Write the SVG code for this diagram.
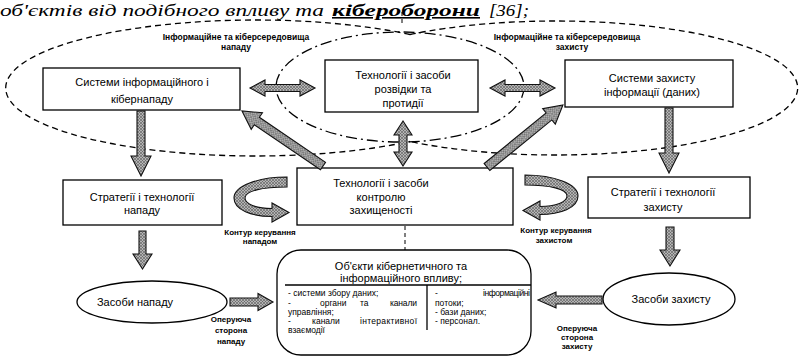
<svg xmlns="http://www.w3.org/2000/svg" width="803" height="358" viewBox="0 0 803 358">
<defs>
<pattern id="h" width="3" height="3" patternUnits="userSpaceOnUse">
<rect width="3" height="3" fill="#b4b4b4"/>
<path d="M0,3 L3,0 M0,0 L3,3" stroke="#5a5a5a" stroke-width="0.6"/>
</pattern>
<style>
.box{fill:#fff;stroke:#000;stroke-width:1.3}
.arr{fill:url(#h);stroke:#111;stroke-width:1.1;stroke-linejoin:miter}
.env{fill:none;stroke:#000;stroke-width:1.3;stroke-dasharray:6 4}
.dd{fill:none;stroke:#000;stroke-width:1.3;stroke-dasharray:11 4 2 4}
.t{font-family:"Liberation Sans",Arial,sans-serif;font-size:11px;fill:#000;text-anchor:middle}
.s{font-size:8.5px;font-weight:bold}
.l{font-size:8px;font-weight:bold}
.c{font-size:8.5px;text-anchor:start}
.vd{stroke:#000;stroke-width:1;stroke-dasharray:4 3;fill:none}
</style>
</defs>
<rect width="803" height="358" fill="#fff"/>

<g id="caption" font-family="'Liberation Serif','Times New Roman',serif" font-style="italic" font-size="16" fill="#000">
<text x="0" y="16" textLength="324" lengthAdjust="spacingAndGlyphs">об'єктів від подібного впливу та</text>
<text x="332" y="16" font-weight="bold" text-decoration="underline" textLength="148" lengthAdjust="spacingAndGlyphs">кібероборони</text>
<text x="489" y="16" textLength="40" lengthAdjust="spacingAndGlyphs">[36];</text>
</g>

<g id="env-attack">
<path class="env" d="M410,34.5 A250,68 0 1,0 410,141.5"/>
<text class="t s" x="236" y="40">Інформаційне та кіберсередовища</text>
<text class="t s" x="236" y="50">нападу</text>
</g>
<g id="env-defense">
<path class="env" d="M410,34.5 A242,67 0 1,1 410,141.5"/>
<text class="t s" x="567" y="40">Інформаційне та кіберсередовища</text>
<text class="t s" x="572" y="50">захисту</text>
</g>
<g id="env-recon">
<ellipse class="dd" cx="400" cy="87" rx="124" ry="55"/>
</g>

<g id="attack-systems">
<rect class="box" x="43" y="68" width="197" height="42"/>
<text class="t" x="142" y="86">Системи інформаційного і</text>
<text class="t" x="142" y="103">кібернападу</text>
</g>
<g id="recon-tech">
<rect class="box" x="325" y="60" width="153" height="52"/>
<text class="t" x="403" y="79">Технології і засоби</text>
<text class="t" x="403" y="93">розвідки та</text>
<text class="t" x="403" y="107">протидії</text>
</g>
<g id="defense-systems">
<rect class="box" x="565" y="60" width="168" height="47"/>
<text class="t" x="652" y="82">Системи захисту</text>
<text class="t" x="652" y="96">інформації (даних)</text>
</g>
<g id="attack-strategies">
<rect class="box" x="63" y="180" width="159" height="45"/>
<text class="t" x="142" y="201">Стратегії і технології</text>
<text class="t" x="142" y="214">нападу</text>
</g>
<g id="control-tech">
<rect class="box" x="297" y="168" width="216" height="57"/>
<text class="t" x="381" y="187">Технології і засоби</text>
<text class="t" x="381" y="201">контролю</text>
<text class="t" x="381" y="214">захищеності</text>
</g>
<g id="defense-strategies">
<rect class="box" x="588" y="177" width="162" height="41"/>
<text class="t" x="663" y="196">Стратегії і технології</text>
<text class="t" x="663" y="211">захисту</text>
</g>
<g id="attack-means">
<ellipse class="box" cx="152" cy="302" rx="75" ry="21"/>
<text class="t" x="135" y="306">Засоби нападу</text>
</g>
<g id="defense-means">
<ellipse class="box" cx="669" cy="299" rx="66" ry="26"/>
<text class="t" x="671" y="303">Засоби захисту</text>
</g>
<g id="targets">
<rect class="box" x="277" y="250" width="254" height="105" rx="24" ry="24"/>
<text class="t" x="401" y="270" font-size="10">Об'єкти кібернетичного та</text>
<text class="t" x="401" y="282" font-size="10">інформаційного впливу;</text>
<line x1="285" y1="285" x2="531" y2="285" stroke="#000" stroke-width="1.3"/>
<line x1="427" y1="285" x2="427" y2="330" stroke="#000" stroke-width="1.3"/>
<g class="t c">
<text x="288" y="296">- системи збору даних;</text>
<text x="288" y="306">-</text><text x="320" y="306">органи</text><text x="360" y="306">та</text><text x="390" y="306" textLength="27">канали</text>
<text x="288" y="315">управління;</text>
<text x="288" y="324">-</text><text x="312" y="324">канали</text><text x="360" y="324" textLength="57">інтерактивної</text>
<text x="288" y="333">взаємодії</text>
<text x="435" y="296">-</text><text x="483" y="296" textLength="47">інформаційні</text>
<text x="435" y="306">потоки;</text>
<text x="435" y="315">- бази даних;</text>
<text x="435" y="324">- персонал.</text>
</g>
</g>

<g id="labels">
<text class="t l" x="260" y="235">Контур керування</text>
<text class="t l" x="260" y="244">нападом</text>
<text class="t l" x="556" y="233">Контур керування</text>
<text class="t l" x="554" y="243">захистом</text>
<text class="t l" x="231" y="322">Оперуюча</text>
<text class="t l" x="231" y="333">сторона</text>
<text class="t l" x="231" y="344">нападу</text>
<text class="t l" x="577" y="331">Оперуюча</text>
<text class="t l" x="577" y="340">сторона</text>
<text class="t l" x="577" y="349">захисту</text>
</g>

<g id="connectors">
<line class="vd" x1="402" y1="12" x2="402" y2="26"/>
<line class="vd" x1="405" y1="226" x2="405" y2="250"/>
<path class="arr" d="M250,88 L265,80 L265,84.5 L300,84.5 L300,80 L315,88 L300,96 L300,91.5 L265,91.5 L265,96 Z"/>
<path class="arr" d="M490,88 L505,80 L505,84.5 L540,84.5 L540,80 L555,88 L540,96 L540,91.5 L505,91.5 L505,96 Z"/>
<path class="arr" d="M403,121 L394,135 L399,135 L399,152 L394,152 L403,166 L412,152 L407,152 L407,135 L412,135 Z"/>
<path class="arr" transform="translate(323,166) rotate(-145.8)" d="M0,-4.5 L80,-4.5 L80,-10 L98,0 L80,10 L80,4.5 L0,4.5 Z"/>
<path class="arr" transform="translate(487,167) rotate(-39.2)" d="M0,-4.5 L80,-4.5 L80,-10 L98,0 L80,10 L80,4.5 L0,4.5 Z"/>
<path class="arr" d="M137,111 L145,111 L145,156 L151,156 L141,176 L131,156 L137,156 Z"/>
<path class="arr" d="M665,108 L673,108 L673,153 L679,153 L669,173 L659,153 L665,153 Z"/>
<path class="arr" d="M139,231 L146,231 L146,254 L152,254 L142.5,269 L133,254 L139,254 Z"/>
<path class="arr" d="M666,227 L674,227 L674,250 L680,250 L670,266 L660,250 L666,250 Z"/>
<path class="arr" d="M230,298 L258,298 L258,293.5 L273,302 L258,310.5 L258,306 L230,306 Z"/>
<path class="arr" d="M602,296 L556,296 L556,292 L538,300 L556,308 L556,304 L602,304 Z"/>
<path class="arr" d="M287,177 C258,177 234,186 234,198 C234,210 252,216.5 272,216.5 L272,222 L289,212.5 L272,203 L272,208.5 C256,208.5 245,204 245,198 C245,191 262,187 287,187 Z"/>
<path class="arr" transform="translate(812,-2) scale(-1,1)" d="M287,177 C258,177 234,186 234,198 C234,210 252,216.5 272,216.5 L272,222 L289,212.5 L272,203 L272,208.5 C256,208.5 245,204 245,198 C245,191 262,187 287,187 Z"/>
</g>
</svg>
